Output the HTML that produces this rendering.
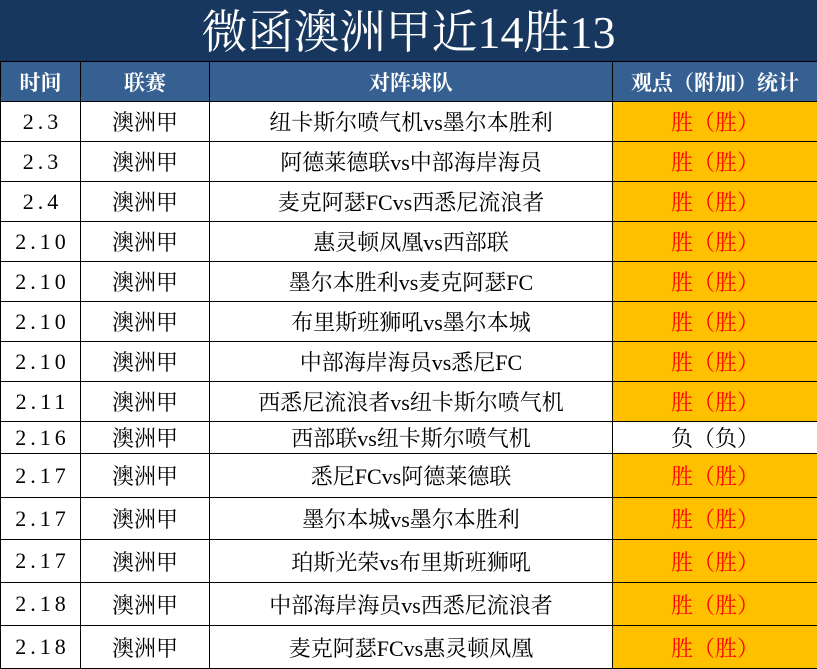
<!DOCTYPE html>
<html><head><meta charset="utf-8"><style>
body{margin:0;width:817px;height:668px;background:#fff;overflow:hidden;font-family:"Liberation Serif","Noto Serif CJK SC",serif;}
.t{position:absolute;left:0;top:0;width:817px;height:62px;background:#17375e;color:#fff;font-size:46px;text-align:center;line-height:66px;}
table{position:absolute;left:0;top:61px;border-collapse:collapse;width:817px;table-layout:fixed;}
td{border:1.5px solid #000;text-align:center;padding:0;font-size:22px;color:#000;white-space:nowrap;overflow:hidden;}
td.d{letter-spacing:4px;padding-left:4px;}
tr.h td{background:#366092;color:#fff;font-weight:bold;font-size:21px;}
td.w{background:#ffc000;color:#ff0000;}
</style></head><body>
<div class="t">微函澳洲甲近14胜13</div>
<table>
<colgroup><col style="width:80px"><col style="width:129px"><col style="width:403px"><col style="width:205px"></colgroup>
<tr class="h" style="height:40px"><td>时间</td><td>联赛</td><td>对阵球队</td><td>观点（附加）统计</td></tr>
<tr style="height:40px"><td class="d">2.3</td><td>澳洲甲</td><td>纽卡斯尔喷气机vs墨尔本胜利</td><td class="w">胜（胜）</td></tr>
<tr style="height:40px"><td class="d">2.3</td><td>澳洲甲</td><td>阿德莱德联vs中部海岸海员</td><td class="w">胜（胜）</td></tr>
<tr style="height:40px"><td class="d">2.4</td><td>澳洲甲</td><td>麦克阿瑟FCvs西悉尼流浪者</td><td class="w">胜（胜）</td></tr>
<tr style="height:40px"><td class="d">2.10</td><td>澳洲甲</td><td>惠灵顿凤凰vs西部联</td><td class="w">胜（胜）</td></tr>
<tr style="height:40px"><td class="d">2.10</td><td>澳洲甲</td><td>墨尔本胜利vs麦克阿瑟FC</td><td class="w">胜（胜）</td></tr>
<tr style="height:40px"><td class="d">2.10</td><td>澳洲甲</td><td>布里斯班狮吼vs墨尔本城</td><td class="w">胜（胜）</td></tr>
<tr style="height:40px"><td class="d">2.10</td><td>澳洲甲</td><td>中部海岸海员vs悉尼FC</td><td class="w">胜（胜）</td></tr>
<tr style="height:40px"><td class="d">2.11</td><td>澳洲甲</td><td>西悉尼流浪者vs纽卡斯尔喷气机</td><td class="w">胜（胜）</td></tr>
<tr style="height:31px"><td class="d">2.16</td><td>澳洲甲</td><td>西部联vs纽卡斯尔喷气机</td><td>负（负）</td></tr>
<tr style="height:44px"><td class="d">2.17</td><td>澳洲甲</td><td>悉尼FCvs阿德莱德联</td><td class="w">胜（胜）</td></tr>
<tr style="height:42px"><td class="d">2.17</td><td>澳洲甲</td><td>墨尔本城vs墨尔本胜利</td><td class="w">胜（胜）</td></tr>
<tr style="height:43px"><td class="d">2.17</td><td>澳洲甲</td><td>珀斯光荣vs布里斯班狮吼</td><td class="w">胜（胜）</td></tr>
<tr style="height:43px"><td class="d">2.18</td><td>澳洲甲</td><td>中部海岸海员vs西悉尼流浪者</td><td class="w">胜（胜）</td></tr>
<tr style="height:43px"><td class="d">2.18</td><td>澳洲甲</td><td>麦克阿瑟FCvs惠灵顿凤凰</td><td class="w">胜（胜）</td></tr>
</table>
</body></html>
